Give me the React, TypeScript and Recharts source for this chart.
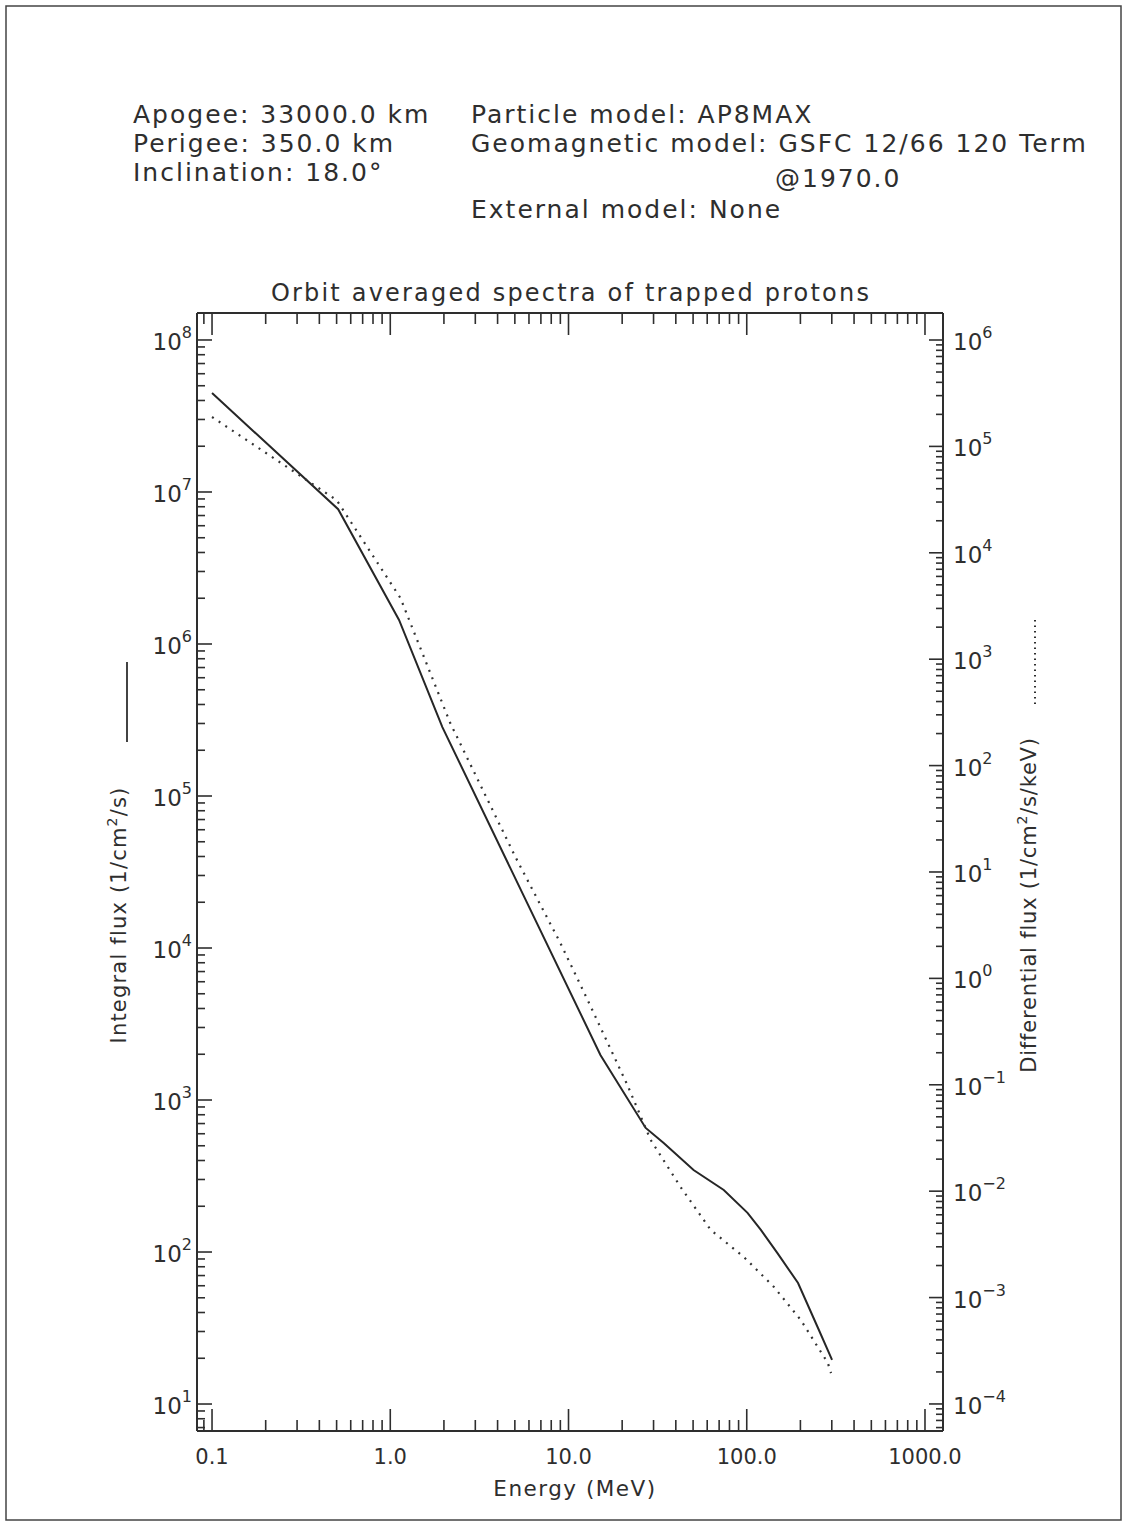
import { LineChart, Line, XAxis, YAxis } from "recharts"

// solid curve, left axis
const integralEnergy = [0.1, 0.51, 1.12, 1.96, 15.1, 27.1, 34.2, 50.3, 74.3, 101, 120, 149, 194, 250, 301]
const integralFlux = [4.48e7, 7.7e6, 1.44e6, 2.84e5, 1.98e3, 655, 521, 346, 256, 181, 140, 98, 62.5, 32, 19.5]

// dotted curve, right axis
const differentialEnergy = [0.1, 0.5, 1.14, 2.17, 5.04, 9.0, 12.8, 21.4, 28.9, 42.6, 62.8, 96.2, 142, 201, 285, 297]
const differentialFlux = [1.89e5, 3.13e4, 3.76e3, 251, 13.8, 2.15, 0.627, 0.0995, 0.0303, 0.0109, 4.32e-3, 2.41e-3, 1.26e-3, 6.15e-4, 2.43e-4, 1.95e-4]

const energyMajor = [0.1, 1, 10, 100, 1000]
const energyLabels = ["0.1", "1.0", "10.0", "100.0", "1000.0"]
const integralExponents = [1, 2, 3, 4, 5, 6, 7, 8]
const differentialExponents = [-4, -3, -2, -1, 0, 1, 2, 3, 4, 5, 6]

const headerLeft = ["Apogee: 33000.0 km", "Perigee: 350.0 km", "Inclination: 18.0°"]
const headerRight = ["Particle model:  AP8MAX", "Geomagnetic model: GSFC 12/66 120 Term", "@1970.0", "External model: None"]

const title = "Orbit averaged spectra of trapped protons"
const xTitle = "Energy (MeV)"

const INK = "#2e2e2e"
const FONT = "'DejaVu Sans', sans-serif"
const W = 1127
const H = 1526
const PLOT = { left: 197, top: 313, right: 943, bottom: 1431 }

const X_DOMAIN: [number, number] = [0.08235, 1262]
const INT_DOMAIN: [number, number] = [6.645, 1.505e8]
const DIFF_DOMAIN: [number, number] = [5.57e-5, 1.794e6]

const integralData = integralEnergy.map((e, i) => ({ energy: e, flux: integralFlux[i] }))
const differentialData = differentialEnergy.map((e, i) => ({ energy: e, flux: differentialFlux[i] }))

function logTicks(domain: [number, number]) {
  const out: number[] = []
  const lo = Math.floor(Math.log10(domain[0]))
  const hi = Math.ceil(Math.log10(domain[1]))
  for (let d = lo; d <= hi; d++) {
    for (let k = 1; k <= 9; k++) {
      const v = Number((k * Math.pow(10, d)).toPrecision(6))
      if (v >= domain[0] && v <= domain[1]) out.push(v)
    }
  }
  return out
}

const isDecade = (v: number) => {
  const l = Math.log10(v)
  return Math.abs(l - Math.round(l)) < 1e-6
}

const sup = (n: number) => (n < 0 ? "\u2212" + Math.abs(n) : String(n))

function BottomTick(props: any) {
  const { x, y, payload } = props
  const major = isDecade(payload.value)
  const idx = energyMajor.findIndex((v) => Math.abs(v - payload.value) / v < 1e-6)
  return (
    <g>
      <line x1={x} x2={x} y1={y} y2={y - (major ? 22 : 11)} stroke={INK} strokeWidth={1.6} />
      {idx >= 0 && (
        <text x={x} y={y + 33} textAnchor="middle" fontSize={21} fill={INK} fontFamily={FONT}>
          {energyLabels[idx]}
        </text>
      )}
    </g>
  )
}

function TopTick(props: any) {
  const { x, y, payload } = props
  const major = isDecade(payload.value)
  return <line x1={x} x2={x} y1={y} y2={y + (major ? 22 : 11)} stroke={INK} strokeWidth={1.6} />
}

function LeftTick(props: any) {
  const { x, y, payload } = props
  const major = isDecade(payload.value)
  const exp = Math.round(Math.log10(payload.value))
  return (
    <g>
      <line x1={x} x2={x + (major ? 15 : 8)} y1={y} y2={y} stroke={INK} strokeWidth={1.6} />
      {major && integralExponents.includes(exp) && (
        <text x={x - 5} y={y + 10} textAnchor="end" fontSize={23} fill={INK} fontFamily={FONT}>
          <tspan>10</tspan>
          <tspan dy={-12} fontSize={16}>{sup(exp)}</tspan>
        </text>
      )}
    </g>
  )
}

function RightTick(props: any) {
  const { x, y, payload } = props
  const major = isDecade(payload.value)
  const exp = Math.round(Math.log10(payload.value))
  return (
    <g>
      <line x1={x} x2={x - (major ? 14 : 7)} y1={y} y2={y} stroke={INK} strokeWidth={1.6} />
      {major && differentialExponents.includes(exp) && (
        <text x={x + 10} y={y + 10} textAnchor="start" fontSize={23} fill={INK} fontFamily={FONT}>
          <tspan>10</tspan>
          <tspan dy={-12} fontSize={16}>{sup(exp)}</tspan>
        </text>
      )}
    </g>
  )
}

export default function App() {
  const xTicks = logTicks(X_DOMAIN)
  const axisLine = { stroke: INK, strokeWidth: 2 }
  const headStyle = { fontFamily: FONT, fill: INK, fontSize: 25, letterSpacing: 2 }
  const labelStyle = { fontFamily: FONT, fill: INK, fontSize: 21 }
  return (
    <div style={{ position: "absolute", left: 0, top: 0, width: W, height: H, background: "#fff" }}>
      <LineChart
        width={W}
        height={H}
        margin={{ top: PLOT.top - 40, right: W - PLOT.right - 80, bottom: H - PLOT.bottom - 40, left: PLOT.left - 80 }}
      >
        <XAxis
          xAxisId="bottom"
          type="number"
          dataKey="energy"
          scale="log"
          domain={X_DOMAIN}
          allowDataOverflow
          ticks={xTicks}
          interval={0}
          height={40}
          tickSize={0}
          tickMargin={0}
          tickLine={false}
          axisLine={axisLine}
          tick={<BottomTick />}
        />
        <XAxis
          xAxisId="top"
          orientation="top"
          type="number"
          dataKey="energy"
          scale="log"
          domain={X_DOMAIN}
          allowDataOverflow
          ticks={xTicks}
          interval={0}
          height={40}
          tickSize={0}
          tickMargin={0}
          tickLine={false}
          axisLine={axisLine}
          tick={<TopTick />}
        />
        <YAxis
          yAxisId="int"
          scale="log"
          domain={INT_DOMAIN}
          allowDataOverflow
          ticks={logTicks(INT_DOMAIN)}
          interval={0}
          width={80}
          tickSize={0}
          tickMargin={0}
          tickLine={false}
          axisLine={axisLine}
          tick={<LeftTick />}
        />
        <YAxis
          yAxisId="diff"
          orientation="right"
          scale="log"
          domain={DIFF_DOMAIN}
          allowDataOverflow
          ticks={logTicks(DIFF_DOMAIN)}
          interval={0}
          width={80}
          tickSize={0}
          tickMargin={0}
          tickLine={false}
          axisLine={axisLine}
          tick={<RightTick />}
        />
        <Line
          xAxisId="bottom"
          yAxisId="int"
          data={integralData}
          dataKey="flux"
          type="linear"
          stroke="#262626"
          strokeWidth={2}
          dot={false}
          isAnimationActive={false}
        />
        <Line
          xAxisId="bottom"
          yAxisId="diff"
          data={differentialData}
          dataKey="flux"
          type="linear"
          stroke="#333"
          strokeWidth={2.2}
          strokeDasharray="2 6"
          dot={false}
          isAnimationActive={false}
        />
      </LineChart>

      <svg width={W} height={H} style={{ position: "absolute", left: 0, top: 0, pointerEvents: "none" }}>
        <rect x={6} y={6} width={W - 12} height={H - 12} fill="none" stroke="#444" strokeWidth={1.5} />
        {headerLeft.map((t, i) => (
          <text key={t} x={133} y={[123, 152, 181][i]} {...headStyle}>
            {t}
          </text>
        ))}
        {headerRight.map((t, i) => (
          <text key={t} x={i === 2 ? 775 : 471} y={[123, 152, 187, 218][i]} {...headStyle}>
            {t}
          </text>
        ))}
        <text x={571} y={301} textAnchor="middle" {...headStyle} fontSize={24} letterSpacing={2.2}>
          {title}
        </text>
        <text x={575} y={1496} textAnchor="middle" {...labelStyle} fontSize={21.5} letterSpacing={1.5}>
          {xTitle}
        </text>
        <text transform="translate(126 915) rotate(-90)" textAnchor="middle" {...labelStyle} letterSpacing={1.2}>
          Integral flux (1/cm<tspan dy={-9} fontSize={14}>2</tspan>
          <tspan dy={9}>/s)</tspan>
        </text>
        <line x1={127} x2={127} y1={662} y2={742} stroke={INK} strokeWidth={1.8} />
        <text transform="translate(1036 905) rotate(-90)" textAnchor="middle" {...labelStyle} letterSpacing={0.8}>
          Differential flux (1/cm<tspan dy={-9} fontSize={14}>2</tspan>
          <tspan dy={9}>/s/keV)</tspan>
        </text>
        <line x1={1035} x2={1035} y1={620} y2={708} stroke={INK} strokeWidth={2} strokeDasharray="1.5 4" />
      </svg>
    </div>
  )
}
